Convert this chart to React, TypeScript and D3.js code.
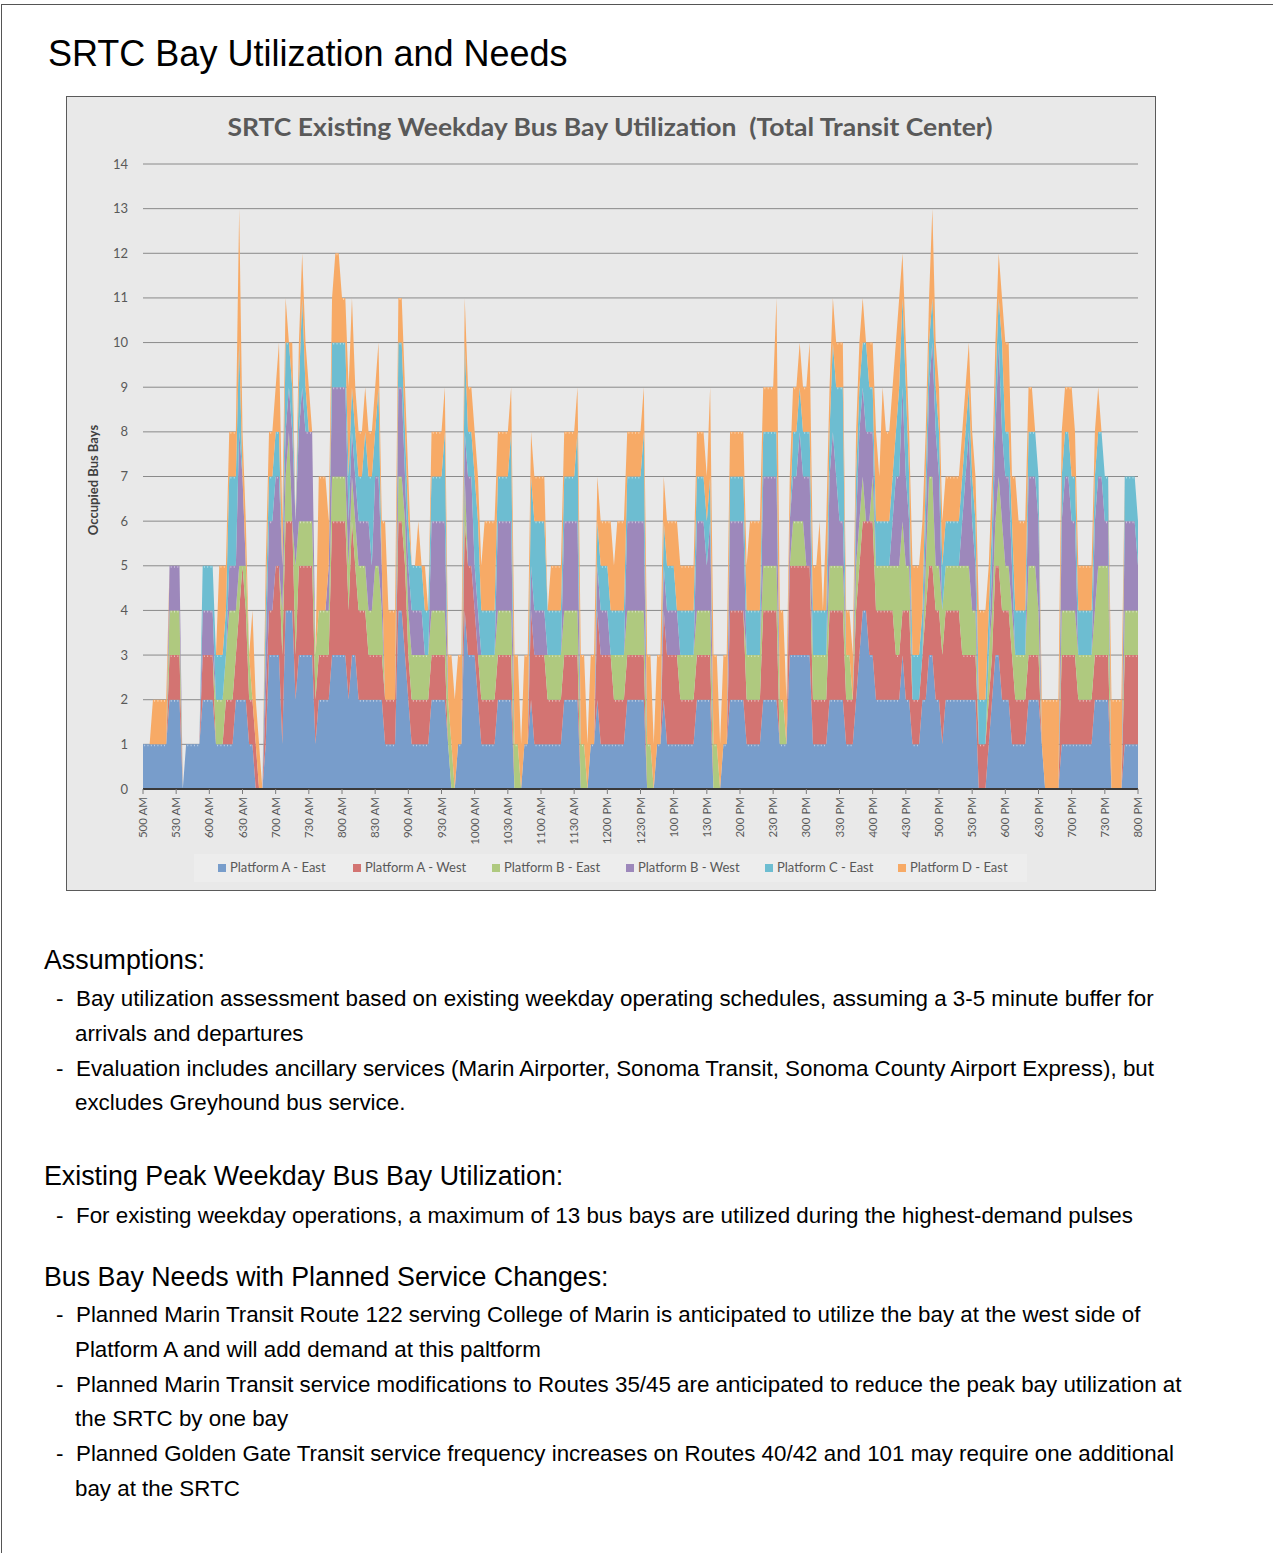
import React from "react";
import * as d3 from "d3";

// 3-minute intervals from 5:00 AM to 8:00 PM (301 points)
const PLATFORM_A_EAST = [
1,1,1,1,1,1,1,1,2,2, 2,2,0,1,1,1,1,1,2,2, 2,2,1,1,1,1,1,1,2,2, 2,2,1,1,0,0,0,1,3,3,
3,3,1,4,4,4,2,3,3,3, 3,3,1,2,2,2,2,3,3,3, 3,3,2,3,3,2,2,2,2,2, 2,2,2,1,1,1,1,4,4,3,
2,1,1,1,1,1,1,2,2,2, 2,2,1,0,0,1,1,4,3,3, 3,2,1,1,1,1,1,2,2,2, 2,2,0,0,0,1,1,2,1,1,
1,1,1,1,1,1,1,2,2,2, 2,2,0,0,0,1,1,2,1,1, 1,1,1,1,1,1,2,2,2,2, 2,2,0,0,0,1,1,2,1,1,
1,1,1,1,1,1,1,2,2,2, 2,2,0,0,0,1,1,2,2,2, 2,2,1,1,1,1,1,2,2,2, 2,2,1,1,1,3,3,3,3,3,
3,3,1,1,1,1,1,2,2,2, 2,2,1,1,1,2,3,4,4,3, 3,2,2,2,2,2,2,2,2,3, 2,2,1,1,1,2,2,3,3,2,
2,1,2,2,2,2,2,2,2,2, 2,2,0,0,0,1,2,3,3,2, 2,2,1,1,1,1,1,2,2,2, 2,1,0,0,0,0,0,1,1,1,
1,1,1,1,1,1,1,2,2,2, 2,2,0,0,0,0,1,1,1,1,1];
const PLATFORM_A_WEST = [
0,0,0,0,0,0,0,0,1,1, 1,1,0,0,0,0,0,0,1,1, 1,1,0,0,0,1,1,1,1,2, 3,2,1,1,1,0,0,1,1,1,
2,2,2,2,2,2,1,2,2,2, 2,2,1,1,1,1,1,3,3,3, 3,3,2,3,2,2,2,2,1,1, 1,1,1,1,1,1,1,2,2,2,
1,1,1,1,1,1,1,1,1,1, 1,1,0,0,0,0,0,2,2,2, 1,1,1,1,1,1,1,1,1,1, 1,1,0,0,0,0,0,2,2,2,
2,2,1,1,1,1,1,1,1,1, 1,1,0,0,0,0,0,2,2,2, 2,2,1,1,1,1,1,1,1,1, 1,1,0,0,0,0,0,2,2,2,
2,2,1,1,1,1,1,1,1,1, 1,1,0,0,0,0,0,2,2,2, 2,2,1,1,1,1,1,2,2,2, 2,2,0,0,0,2,2,2,2,2,
2,2,1,1,1,1,1,2,2,2, 2,2,1,1,1,2,2,2,2,3, 3,2,2,2,2,2,2,1,1,1, 2,2,1,1,1,1,2,2,2,2,
2,2,2,2,2,2,2,1,1,1, 1,1,1,1,1,1,1,2,2,2, 2,2,2,1,1,1,1,1,1,1, 1,0,0,0,0,0,0,2,2,2,
2,2,1,1,1,1,1,1,1,1, 1,1,0,0,0,0,2,2,2,2,2];
const PLATFORM_B_EAST = [
0,0,0,0,0,0,0,0,1,1, 1,1,0,0,0,0,0,0,0,0, 0,0,1,1,1,1,2,2,1,1, 0,1,1,0,0,0,0,0,0,0,
0,0,1,1,2,0,2,1,1,1, 1,1,1,1,1,1,1,1,1,1, 1,1,1,1,1,1,1,1,1,1, 2,2,1,0,0,0,0,1,1,1,
1,1,1,1,1,1,1,1,1,1, 1,1,1,1,0,0,0,1,0,0, 0,0,1,1,1,1,1,1,1,1, 1,1,1,1,0,0,0,0,0,0,
0,0,1,1,1,1,1,1,1,1, 1,1,1,1,0,0,0,0,0,0, 0,0,1,1,1,1,1,1,1,1, 1,1,1,1,0,0,0,0,0,0,
0,0,1,1,1,1,1,1,1,1, 1,1,1,1,0,0,0,0,0,0, 0,0,1,1,1,1,1,1,1,1, 1,1,1,1,0,0,1,1,1,1,
0,0,1,1,1,1,1,1,1,1, 1,1,1,1,0,1,1,1,0,0, 1,1,1,1,1,1,1,2,2,2, 1,1,0,0,0,0,1,2,2,1,
1,1,1,1,1,1,1,2,2,2, 1,1,0,0,0,1,1,1,2,2, 1,1,1,1,1,1,1,2,2,2, 1,0,0,0,0,0,0,1,1,1,
1,1,1,1,1,1,1,1,2,2, 2,2,0,0,0,0,1,1,1,1,1];
const PLATFORM_B_WEST = [
0,0,0,0,0,0,0,0,1,1, 1,1,0,0,0,0,0,0,1,1, 1,1,0,0,0,0,1,1,1,3, 2,0,0,0,0,0,0,1,2,2,
2,2,1,1,1,2,1,2,3,2, 2,2,0,0,0,0,1,2,2,2, 2,2,1,1,1,1,1,1,2,1, 2,2,1,0,0,0,0,2,2,1,
1,1,1,1,1,0,0,2,2,2, 2,2,0,0,0,0,0,1,2,2, 1,1,0,0,0,0,0,2,2,2, 2,2,0,0,0,0,0,1,1,1,
1,1,0,0,0,0,0,2,2,2, 2,2,0,0,0,0,0,1,1,1, 1,0,0,0,0,0,2,2,2,2, 2,2,0,0,0,0,0,1,1,1,
1,1,0,0,0,0,0,2,2,2, 1,2,0,0,0,0,0,2,2,2, 2,2,0,0,0,0,0,2,2,2, 2,2,0,0,0,1,1,1,2,1,
2,2,0,0,0,0,0,2,3,2, 1,1,0,0,0,1,2,2,2,2, 1,0,0,0,0,0,1,2,2,3, 2,1,0,0,0,0,1,2,3,3,
2,0,0,0,0,0,0,1,2,3, 2,1,0,0,0,0,1,2,3,2, 2,2,1,0,0,0,0,2,2,2, 2,0,0,0,0,0,0,2,3,3,
2,2,0,0,0,0,0,2,2,2, 1,1,0,0,0,0,2,2,2,2,1];
const PLATFORM_C_EAST = [
0,0,0,0,0,0,0,0,0,0, 0,0,0,0,0,0,0,0,1,1, 1,1,1,1,1,1,2,2,2,2, 0,0,0,0,0,0,0,1,1,1,
1,1,0,2,1,1,0,1,2,1, 0,0,0,0,0,0,0,1,1,1, 1,1,1,1,1,1,1,2,1,2, 1,2,0,0,0,0,0,1,1,1,
1,1,1,1,1,1,1,1,1,1, 1,2,0,0,0,0,0,2,1,1, 2,2,1,1,1,1,1,1,1,1, 1,2,0,0,0,0,0,2,2,2,
2,2,1,1,1,1,1,1,1,1, 1,2,0,0,0,0,0,1,1,1, 1,1,1,1,1,1,1,1,1,1, 1,2,0,0,0,0,0,1,1,1,
1,0,1,1,1,1,1,1,1,1, 1,1,0,0,0,0,0,1,1,1, 1,1,1,1,1,1,1,1,1,1, 1,1,0,0,0,0,1,1,1,1,
1,1,1,1,1,1,1,1,2,2, 3,3,0,0,0,1,1,1,2,1, 1,1,1,1,1,1,1,1,2,2, 2,1,1,1,1,1,1,1,1,1,
1,1,1,1,1,1,1,1,1,1, 1,1,1,1,1,1,1,1,1,2, 1,1,1,1,1,1,1,1,1,1, 1,0,0,0,0,0,0,1,1,1,
1,1,1,1,1,1,1,1,1,1, 1,1,0,0,0,0,1,1,1,1,1];
const PLATFORM_D_EAST = [
0,0,0,1,1,1,1,1,0,0, 0,0,0,0,0,0,0,0,0,0, 0,0,0,2,2,1,1,1,1,3, 1,1,0,2,1,1,0,1,1,1,
1,2,1,1,0,1,0,1,1,1, 1,0,0,3,3,3,1,1,2,2, 1,1,2,2,1,1,1,1,1,1, 1,1,1,4,2,2,2,1,1,1,
1,0,0,1,0,1,0,1,1,1, 1,1,1,2,2,2,2,1,1,1, 1,1,1,2,2,2,2,1,1,1, 1,1,2,2,1,2,2,1,1,1,
1,1,0,1,1,1,1,1,1,1, 1,1,2,2,1,2,2,1,1,1, 1,2,1,2,2,2,1,1,1,1, 1,1,2,2,1,2,2,1,1,1,
1,2,1,1,1,1,1,1,1,1, 1,2,2,2,1,2,2,1,1,1, 1,1,1,2,2,2,2,1,1,1, 1,3,2,2,1,1,1,1,1,1,
1,2,1,1,2,0,2,1,1,1, 1,1,1,1,1,1,1,1,0,1, 1,2,1,3,2,2,2,2,2,1, 1,1,2,2,2,2,1,1,2,1,
1,1,1,1,1,1,1,1,1,1, 1,1,2,2,2,1,1,1,1,1, 2,2,1,3,2,2,2,1,1,0, 0,1,2,2,2,2,2,1,1,1,
2,1,1,1,1,1,1,1,1,0, 0,0,2,2,2,2,0,0,0,0,0];

const SERIES_NAMES = ["Platform A - East", "Platform A - West", "Platform B - East", "Platform B - West", "Platform C - East", "Platform D - East"];
const SERIES_VALUES = [PLATFORM_A_EAST, PLATFORM_A_WEST, PLATFORM_B_EAST, PLATFORM_B_WEST, PLATFORM_C_EAST, PLATFORM_D_EAST];
const SERIES_COLORS = ["#789dcb", "#d37472", "#afc97f", "#9d88bb", "#6dbdd1", "#f7aa66"];

const X_TICK_LABELS = ["500 AM","530 AM","600 AM","630 AM","700 AM","730 AM","800 AM","830 AM","900 AM","930 AM","1000 AM","1030 AM","1100 AM","1130 AM","1200 PM","1230 PM","100 PM","130 PM","200 PM","230 PM","300 PM","330 PM","400 PM","430 PM","500 PM","530 PM","600 PM","630 PM","700 PM","730 PM","800 PM"];
const Y_TICKS = [0,1,2,3,4,5,6,7,8,9,10,11,12,13,14];

const ASSUMPTIONS = [
  ["Bay utilization assessment based on existing weekday operating schedules, assuming a 3-5 minute buffer for", "arrivals and departures"],
  ["Evaluation includes ancillary services (Marin Airporter, Sonoma Transit, Sonoma County Airport Express), but", "excludes Greyhound bus service."],
];
const PEAK = [["For existing weekday operations, a maximum of 13 bus bays are utilized during the highest-demand pulses"]];
const NEEDS = [
  ["Planned Marin Transit Route 122 serving College of Marin is anticipated to utilize the bay at the west side of", "Platform A and will add demand at this paltform"],
  ["Planned Marin Transit service modifications to Routes 35/45 are anticipated to reduce the peak bay utilization at", "the SRTC by one bay"],
  ["Planned Golden Gate Transit service frequency increases on Routes 40/42 and 101 may require one additional", "bay at the SRTC"],
];

const W = 1273, H = 1553;
const PLOT = { left: 143, right: 1138, top: 164, bottom: 789 };

export default function App() {
  const n = PLATFORM_A_EAST.length;
  const rows = d3.range(n).map((i) => {
    const r: any = { i };
    SERIES_NAMES.forEach((k, s) => (r[k] = SERIES_VALUES[s][i]));
    return r;
  });
  const stacked = d3.stack().keys(SERIES_NAMES)(rows);
  const x = d3.scaleLinear().domain([0, n - 1]).range([PLOT.left, PLOT.right]);
  const y = d3.scaleLinear().domain([0, 14]).range([PLOT.bottom, PLOT.top]);
  const area = d3.area<any>().x((d: any) => x(d.data.i)).y0((d: any) => y(d[0])).y1((d: any) => y(d[1]));
  const tickX = d3.scaleLinear().domain([0, X_TICK_LABELS.length - 1]).range([PLOT.left, PLOT.right]);

  const highlight = (layer: any, s: number) => {
    let p = "";
    const vals = SERIES_VALUES[s];
    for (let i = 0; i < n - 1; i++) {
      if (vals[i] > 0 && vals[i + 1] > 0 && layer[i][1] === layer[i + 1][1]) {
        const yy = y(layer[i][1]) + 1.2;
        p += `M${x(i) + 1.2},${yy}L${x(i + 1) - 1.2},${yy}`;
      }
    }
    return p;
  };

  const chartFont = "Lato, 'Open Sans', sans-serif";
  const textFont = "'Liberation Sans', Arial, sans-serif";
  const legendX = [218, 353, 492, 626, 765, 898];
  const BODY = 22.35;

  const bullets = (items: string[][], startY: number) => {
    const out: any[] = [];
    let yy = startY;
    items.forEach((lines, k) => {
      out.push(<text key={`d${startY}-${k}`} x={56} y={yy} fontSize={BODY}>-</text>);
      lines.forEach((ln, j) => {
        out.push(<text key={`t${startY}-${k}-${j}`} x={j === 0 ? 76 : 75} y={yy} fontSize={BODY}>{ln}</text>);
        yy += 34.8;
      });
    });
    return out;
  };

  return (
    <svg width={W} height={H} style={{ position: "absolute", left: 0, top: 0, background: "#fff" }} fontFamily={textFont}>
      <rect x={1.5} y={4.5} width={W + 10} height={H + 10} fill="#fff" stroke="#555" strokeWidth={1} />
      <text x={48} y={66} fontSize={36} fill="#000">SRTC Bay Utilization and Needs</text>

      {/* chart box */}
      <rect x={66.5} y={96.5} width={1089} height={794} fill="#e9e9e9" stroke="#5a5a5a" strokeWidth={1} />
      <text x={610} y={136} textAnchor="middle" fontFamily={chartFont} fontWeight="bold" fontSize={24} fill="#595959" textLength={765} lengthAdjust="spacingAndGlyphs">
        {"SRTC Existing Weekday Bus Bay Utilization\u00A0 (Total Transit Center)"}
      </text>

      {Y_TICKS.map((t) => (
        <g key={t}>
          {t > 0 && <line x1={PLOT.left} x2={PLOT.right} y1={y(t)} y2={y(t)} stroke="#8a8a8a" strokeWidth={1} />}
          <text x={128} y={y(t) + 4.5} textAnchor="end" fontSize={13} fontFamily={chartFont} fill="#595959">{t}</text>
        </g>
      ))}

      {stacked.map((layer: any, s: number) => (
        <path key={s} d={area(layer) || ""} fill={SERIES_COLORS[s]} />
      ))}
      {stacked.map((layer: any, s: number) => (
        <path key={`h${s}`} d={highlight(layer, s)} stroke="#ffffff" strokeOpacity={0.55} strokeWidth={1.6} fill="none" />
      ))}

      <line x1={PLOT.left} x2={PLOT.right} y1={PLOT.bottom} y2={PLOT.bottom} stroke="#3a3a3a" strokeWidth={2} />
      {X_TICK_LABELS.map((lab, k) => (
        <g key={lab}>
          <line x1={tickX(k)} x2={tickX(k)} y1={PLOT.bottom} y2={PLOT.bottom + 5} stroke="#7a7a7a" strokeWidth={1} />
          <text transform={`translate(${tickX(k) + 4},${797}) rotate(-90)`} textAnchor="end" fontSize={11.5} fontFamily={chartFont} fill="#595959">{lab}</text>
        </g>
      ))}

      <text transform={`translate(98,480) rotate(-90)`} textAnchor="middle" fontSize={13} fontWeight="bold" fontFamily={chartFont} fill="#404040">Occupied Bus Bays</text>

      {/* legend */}
      <rect x={194} y={854} width={833} height={28} fill="#ededed" />
      {SERIES_NAMES.map((nm, s) => (
        <g key={nm}>
          <rect x={legendX[s]} y={864} width={8} height={8} fill={SERIES_COLORS[s]} />
          <text x={legendX[s] + 12} y={872} fontSize={13} fontFamily={chartFont} fill="#595959">{nm}</text>
        </g>
      ))}

      {/* text */}
      <text x={44} y={969} fontSize={26.8}>Assumptions:</text>
      {bullets(ASSUMPTIONS, 1006)}
      <text x={44} y={1185} fontSize={26.8}>Existing Peak Weekday Bus Bay Utilization:</text>
      {bullets(PEAK, 1223)}
      <text x={44} y={1286} fontSize={26.8}>Bus Bay Needs with Planned Service Changes:</text>
      {bullets(NEEDS, 1322)}
    </svg>
  );
}
